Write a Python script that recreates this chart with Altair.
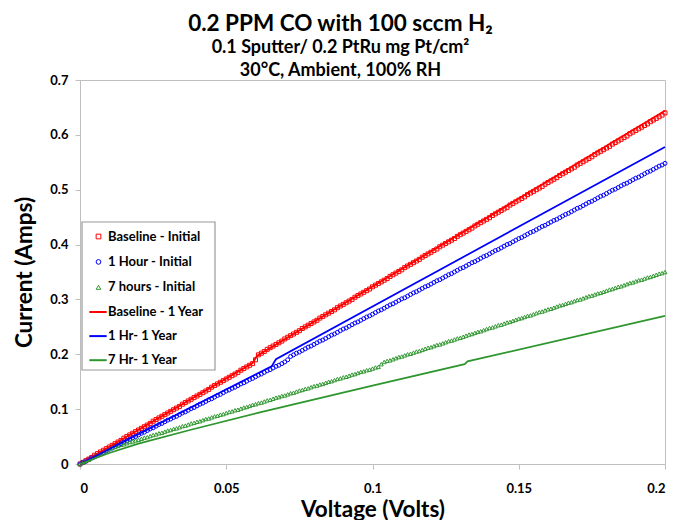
import altair as alt
import pandas as pd

# ---------------- data ----------------
initial_names = ["Baseline - Initial", "1 Hour - Initial", "7 hours - Initial"]
year_names = ["Baseline - 1 Year", "1 Hr- 1 Year", "7 Hr- 1 Year"]

# "Initial" scans sampled every 1 mV from 0 to 0.2 V
scan_step_volts = 0.001

baseline_initial = [
    0.000, 0.003, 0.006, 0.009, 0.012, 0.016, 0.019, 0.022, 0.025, 0.028,
    0.031, 0.034, 0.037, 0.040, 0.043, 0.047, 0.050, 0.053, 0.056, 0.059,
    0.062, 0.065, 0.068, 0.071, 0.074, 0.078, 0.081, 0.084, 0.087, 0.090,
    0.093, 0.096, 0.099, 0.102, 0.105, 0.109, 0.112, 0.115, 0.118, 0.121,
    0.124, 0.127, 0.130, 0.133, 0.136, 0.140, 0.143, 0.146, 0.149, 0.152,
    0.155, 0.158, 0.161, 0.164, 0.167, 0.171, 0.174, 0.177, 0.180, 0.183,
    0.190, 0.199, 0.202, 0.205, 0.209, 0.212, 0.215, 0.218, 0.221, 0.224,
    0.228, 0.231, 0.234, 0.237, 0.240, 0.243, 0.247, 0.250, 0.253, 0.256,
    0.259, 0.262, 0.266, 0.269, 0.272, 0.275, 0.278, 0.281, 0.285, 0.288,
    0.291, 0.294, 0.297, 0.300, 0.304, 0.307, 0.310, 0.313, 0.316, 0.319,
    0.323, 0.326, 0.329, 0.332, 0.335, 0.338, 0.342, 0.345, 0.348, 0.351,
    0.354, 0.358, 0.361, 0.364, 0.367, 0.370, 0.373, 0.377, 0.380, 0.383,
    0.386, 0.389, 0.392, 0.396, 0.399, 0.402, 0.405, 0.408, 0.411, 0.415,
    0.418, 0.421, 0.424, 0.427, 0.430, 0.434, 0.437, 0.440, 0.443, 0.446,
    0.449, 0.453, 0.456, 0.459, 0.462, 0.465, 0.468, 0.472, 0.475, 0.478,
    0.481, 0.484, 0.487, 0.491, 0.494, 0.497, 0.500, 0.503, 0.506, 0.510,
    0.513, 0.516, 0.519, 0.522, 0.526, 0.529, 0.532, 0.535, 0.538, 0.541,
    0.545, 0.548, 0.551, 0.554, 0.557, 0.560, 0.564, 0.567, 0.570, 0.573,
    0.576, 0.579, 0.583, 0.586, 0.589, 0.592, 0.595, 0.598, 0.602, 0.605,
    0.608, 0.611, 0.614, 0.617, 0.620, 0.624, 0.627, 0.630, 0.633, 0.636,
    0.640,
]

one_hour_initial = [
    0.000, 0.003, 0.005, 0.008, 0.011, 0.013, 0.016, 0.019, 0.021, 0.024,
    0.027, 0.029, 0.032, 0.034, 0.037, 0.040, 0.042, 0.045, 0.048, 0.050,
    0.053, 0.056, 0.058, 0.061, 0.064, 0.066, 0.069, 0.072, 0.074, 0.077,
    0.080, 0.082, 0.085, 0.087, 0.090, 0.093, 0.095, 0.098, 0.101, 0.103,
    0.106, 0.109, 0.111, 0.114, 0.117, 0.119, 0.122, 0.125, 0.127, 0.130,
    0.133, 0.135, 0.138, 0.140, 0.143, 0.146, 0.148, 0.151, 0.154, 0.156,
    0.159, 0.162, 0.164, 0.167, 0.170, 0.172, 0.175, 0.178, 0.180, 0.183,
    0.186, 0.190, 0.196, 0.199, 0.202, 0.204, 0.207, 0.210, 0.213, 0.215,
    0.218, 0.221, 0.224, 0.226, 0.229, 0.232, 0.235, 0.237, 0.240, 0.243,
    0.246, 0.248, 0.251, 0.254, 0.257, 0.259, 0.262, 0.265, 0.268, 0.270,
    0.273, 0.276, 0.279, 0.281, 0.284, 0.287, 0.290, 0.292, 0.295, 0.298,
    0.301, 0.303, 0.306, 0.309, 0.312, 0.314, 0.317, 0.320, 0.323, 0.325,
    0.328, 0.331, 0.334, 0.336, 0.339, 0.342, 0.345, 0.347, 0.350, 0.353,
    0.356, 0.358, 0.361, 0.364, 0.367, 0.369, 0.372, 0.375, 0.378, 0.380,
    0.383, 0.386, 0.389, 0.391, 0.394, 0.397, 0.400, 0.402, 0.405, 0.408,
    0.411, 0.413, 0.416, 0.419, 0.422, 0.424, 0.427, 0.430, 0.433, 0.435,
    0.438, 0.441, 0.444, 0.446, 0.449, 0.452, 0.455, 0.457, 0.460, 0.463,
    0.466, 0.468, 0.471, 0.474, 0.477, 0.479, 0.482, 0.485, 0.488, 0.490,
    0.493, 0.496, 0.499, 0.501, 0.504, 0.507, 0.510, 0.512, 0.515, 0.518,
    0.521, 0.523, 0.526, 0.529, 0.532, 0.534, 0.537, 0.540, 0.543, 0.545,
    0.548,
]

seven_hours_initial = [
    0.000, 0.003, 0.006, 0.008, 0.011, 0.014, 0.017, 0.020, 0.023, 0.025,
    0.028, 0.030, 0.031, 0.033, 0.035, 0.036, 0.038, 0.040, 0.041, 0.043,
    0.044, 0.046, 0.048, 0.049, 0.051, 0.053, 0.054, 0.056, 0.057, 0.059,
    0.061, 0.062, 0.064, 0.065, 0.067, 0.069, 0.070, 0.072, 0.074, 0.075,
    0.077, 0.078, 0.080, 0.082, 0.083, 0.085, 0.087, 0.088, 0.090, 0.091,
    0.093, 0.095, 0.096, 0.098, 0.099, 0.101, 0.103, 0.104, 0.106, 0.108,
    0.109, 0.111, 0.112, 0.114, 0.116, 0.117, 0.119, 0.121, 0.122, 0.124,
    0.125, 0.127, 0.129, 0.130, 0.132, 0.134, 0.135, 0.137, 0.138, 0.140,
    0.142, 0.143, 0.145, 0.146, 0.148, 0.150, 0.151, 0.153, 0.155, 0.156,
    0.158, 0.159, 0.161, 0.163, 0.164, 0.166, 0.168, 0.169, 0.171, 0.172,
    0.174, 0.176, 0.177, 0.182, 0.186, 0.188, 0.189, 0.191, 0.193, 0.195,
    0.196, 0.198, 0.200, 0.201, 0.203, 0.205, 0.206, 0.208, 0.210, 0.212,
    0.213, 0.215, 0.217, 0.218, 0.220, 0.222, 0.224, 0.225, 0.227, 0.229,
    0.230, 0.232, 0.234, 0.236, 0.237, 0.239, 0.241, 0.242, 0.244, 0.246,
    0.248, 0.249, 0.251, 0.253, 0.254, 0.256, 0.258, 0.259, 0.261, 0.263,
    0.265, 0.266, 0.268, 0.270, 0.271, 0.273, 0.275, 0.277, 0.278, 0.280,
    0.282, 0.283, 0.285, 0.287, 0.289, 0.290, 0.292, 0.294, 0.295, 0.297,
    0.299, 0.300, 0.302, 0.304, 0.306, 0.307, 0.309, 0.311, 0.312, 0.314,
    0.316, 0.318, 0.319, 0.321, 0.323, 0.324, 0.326, 0.328, 0.330, 0.331,
    0.333, 0.335, 0.336, 0.338, 0.340, 0.341, 0.343, 0.345, 0.347, 0.348,
    0.350,
]

# "1 Year" curves (drawn as lines): breakpoints
baseline_1yr_v = [0.0, 0.059, 0.0605, 0.2]
baseline_1yr_i = [0.0, 0.184, 0.197, 0.644]
one_hr_1yr_v = [0.0, 0.0655, 0.067, 0.2]
one_hr_1yr_i = [0.0, 0.178, 0.191, 0.578]
seven_hr_1yr_v = [0.0, 0.01, 0.02, 0.0376, 0.0615, 0.1, 0.1315, 0.1325, 0.2]
seven_hr_1yr_i = [0.0, 0.020, 0.037, 0.062, 0.094, 0.143, 0.182, 0.187, 0.270]

x_ticks = [0, 0.05, 0.1, 0.15, 0.2]
y_ticks = [0, 0.1, 0.2, 0.3, 0.4, 0.5, 0.6, 0.7]

# ---------------- tables ----------------
rows = []
for name, vals in zip(initial_names, [baseline_initial, one_hour_initial, seven_hours_initial]):
    for k, val in enumerate(vals):
        rows.append({"V": round(k * scan_step_volts, 4), "I": val, "series": name})
pts = pd.DataFrame(rows)

rows = []
for name, vs, cs in zip(year_names,
                        [baseline_1yr_v, one_hr_1yr_v, seven_hr_1yr_v],
                        [baseline_1yr_i, one_hr_1yr_i, seven_hr_1yr_i]):
    for k, (v, c) in enumerate(zip(vs, cs)):
        rows.append({"V": v, "I": c, "series": name, "k": k})
lines = pd.DataFrame(rows)

# ---------------- styling ----------------
FONT = "Lato"
GRAY = "#bfbfbf"
point_colors = ["#ff0000", "#0000ff", "#339933"]
point_shapes = ["square", "circle", "triangle-up"]
line_colors = ["#ff0000", "#0000ff", "#2e962e"]

common_legend = dict(
    title=None, orient="none", direction="vertical",
    labelFont=FONT, labelFontSize=13, labelFontWeight="bold", labelColor="black",
    padding=8, labelLimit=300,
)
legend_initial = alt.Legend(
    legendX=2, legendY=142, symbolSize=22, symbolStrokeWidth=1,
    symbolOffset=2, labelOffset=3, rowPadding=11.4, **common_legend,
)
legend_year = alt.Legend(
    legendX=0, legendY=214, symbolType="stroke", symbolSize=300,
    symbolStrokeWidth=2, labelOffset=0, rowPadding=7.1, **common_legend,
)

xenc = alt.X("V:Q", scale=alt.Scale(domain=[0, 0.2], nice=False),
             axis=alt.Axis(title="Voltage (Volts)", values=x_ticks, format="~g"))
yenc = alt.Y("I:Q", scale=alt.Scale(domain=[0, 0.7], nice=False),
             axis=alt.Axis(title="Current (Amps)", values=y_ticks, format="~g"))

# legend frame (one box around both legend groups)
frame = alt.Chart(pd.DataFrame({"a": [0]})).mark_rect(
    fill="white", stroke="#9a9a9a", strokeWidth=1.2
).encode(x=alt.value(2), x2=alt.value(135), y=alt.value(142), y2=alt.value(290))

points = alt.Chart(pts).mark_point(filled=False, strokeWidth=1, opacity=1, size=16).encode(
    x=xenc, y=yenc,
    color=alt.Color("series:N", scale=alt.Scale(domain=initial_names, range=point_colors),
                    legend=legend_initial),
    shape=alt.Shape("series:N", scale=alt.Scale(domain=initial_names, range=point_shapes),
                    legend=legend_initial),
)

curves = alt.Chart(lines).mark_line(strokeWidth=1.75).encode(
    x=xenc, y=yenc, order="k:Q", detail="series:N",
    stroke=alt.Stroke("series:N", scale=alt.Scale(domain=year_names, range=line_colors),
                      legend=legend_year),
)

chart = alt.layer(frame, points, curves).properties(
    width=585, height=384,
    title=alt.TitleParams(
        text="0.2 PPM CO with 100 sccm H₂",
        subtitle=["0.1 Sputter/ 0.2 PtRu mg Pt/cm²", "30°C, Ambient, 100% RH"],
        font=FONT, fontSize=22.5, fontWeight="bold", color="black",
        subtitleFont=FONT, subtitleFontSize=18, subtitleFontWeight="bold",
        subtitleColor="black", subtitleLineHeight=23, subtitlePadding=4,
        anchor="middle", dx=-32, offset=-6,
    ),
    autosize=alt.AutoSizeParams(type="none"),
    padding={"left": 72, "top": 72, "right": 5, "bottom": 56},
).configure_view(stroke=GRAY, strokeWidth=1).configure_axis(
    grid=False, domainColor=GRAY, tickColor=GRAY, tickSize=5,
    labelFont=FONT, labelFontSize=13, labelFontWeight="bold", labelColor="black",
    titleFont=FONT, titleFontSize=22.5, titleFontWeight="bold", titleColor="black",
).configure_axisX(labelPadding=13, titlePadding=3).configure_axisY(labelPadding=7, titlePadding=13)

chart.save("out.html", embed_options={"renderer": "svg", "actions": False})
